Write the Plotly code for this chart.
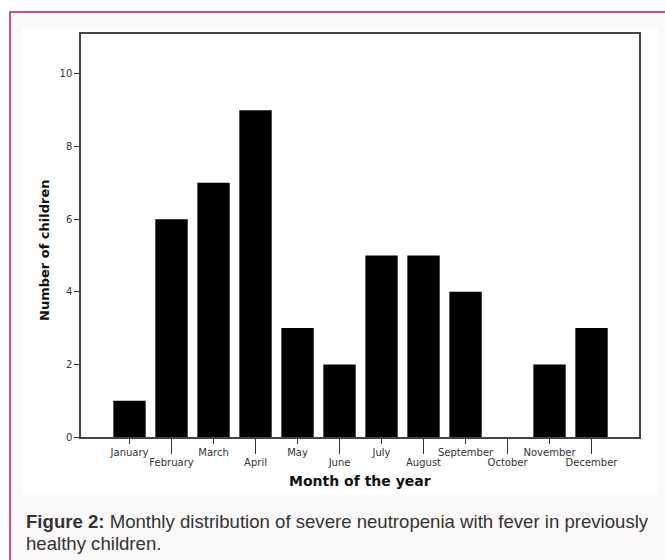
import plotly.graph_objects as go

months = ["January", "February", "March", "April", "May", "June", "July",
          "August", "September", "October", "November", "December"]
children = [1, 6, 7, 9, 3, 2, 5, 5, 4, 0, 2, 3]
y_ticks = [0, 2, 4, 6, 8, 10]

upper_months = months[0::2]
lower_months = months[1::2]

fig = go.Figure()
fig.add_trace(go.Bar(x=months, y=children, marker=dict(color="black", line=dict(width=0)),
                     width=0.77, xaxis="x", yaxis="y", showlegend=False))
fig.add_trace(go.Bar(x=months, y=children, marker=dict(color="rgba(0,0,0,0)", line=dict(width=0)),
                     width=0.77, xaxis="x2", yaxis="y", showlegend=False, hoverinfo="skip"))

tickfont = dict(family="DejaVu Sans", size=10, color="#333")
xrange = [-1.155, 12.13]

fig.update_layout(
    width=665, height=560,
    margin=dict(l=81, r=26, t=34, b=123),
    paper_bgcolor="white", plot_bgcolor="white",
    xaxis=dict(type="category", categoryorder="array", categoryarray=months,
               range=xrange, tickmode="array", tickvals=upper_months, ticktext=upper_months,
               ticks="outside", ticklen=5, tickwidth=1, tickcolor="#333",
               showline=True, linecolor="#444", linewidth=1.5, mirror=True,
               showgrid=False, zeroline=False, tickfont=tickfont, fixedrange=True),
    xaxis2=dict(type="category", categoryorder="array", categoryarray=months,
                overlaying="x", anchor="y", side="bottom",
                range=xrange, tickmode="array", tickvals=lower_months, ticktext=lower_months,
                ticks="outside", ticklen=16, tickwidth=1, tickcolor="#333",
                showline=False, showgrid=False, zeroline=False, tickfont=tickfont),
    yaxis=dict(range=[0, 11.1], tickmode="array", tickvals=y_ticks,
               ticks="outside", ticklen=5, tickwidth=1, tickcolor="#333",
               showline=True, linecolor="#444", linewidth=1.5, mirror=True,
               showgrid=False, zeroline=False, tickfont=tickfont),
    bargap=0.23,
)

# background panels (paper coordinates)
fig.add_shape(type="rect", xref="paper", yref="paper", x0=-0.1272, x1=1.2, y0=-0.4, y1=1.0546,
              fillcolor="#faf8f9", line=dict(color="#c8194b", width=1.5), layer="below")
fig.add_shape(type="rect", xref="paper", yref="paper", x0=-0.1057, x1=1.034, y0=-0.1439, y1=1.0149,
              fillcolor="white", line=dict(width=0), layer="below")

fig.add_annotation(text="<b>Month of the year</b>", xref="paper", yref="paper",
                   x=(360 - 81) / 558, y=(437 - 481) / 403, showarrow=False,
                   xanchor="center", yanchor="middle",
                   font=dict(family="DejaVu Sans", size=14, color="#111"))
fig.add_annotation(text="<b>Number of children</b>", xref="paper", yref="paper",
                   x=(45 - 81) / 558, y=(437 - 250) / 403, showarrow=False, textangle=-90,
                   xanchor="center", yanchor="middle",
                   font=dict(family="DejaVu Sans", size=13, color="#111"))
capfont = dict(family="Liberation Sans", size=18.6, color="#333")
fig.add_annotation(text="<b>Figure 2:</b> Monthly distribution of severe neutropenia with fever in previously",
                   xref="paper", yref="paper", x=(24 - 81) / 558, y=(437 - 521) / 403,
                   showarrow=False, xanchor="left", yanchor="middle", align="left", font=capfont)
fig.add_annotation(text="healthy children.",
                   xref="paper", yref="paper", x=(24 - 81) / 558, y=(437 - 543) / 403,
                   showarrow=False, xanchor="left", yanchor="middle", align="left", font=capfont)

fig.write_html("out.html", config={"displayModeBar": False},
               post_script="document.body.style.margin='0px';")
